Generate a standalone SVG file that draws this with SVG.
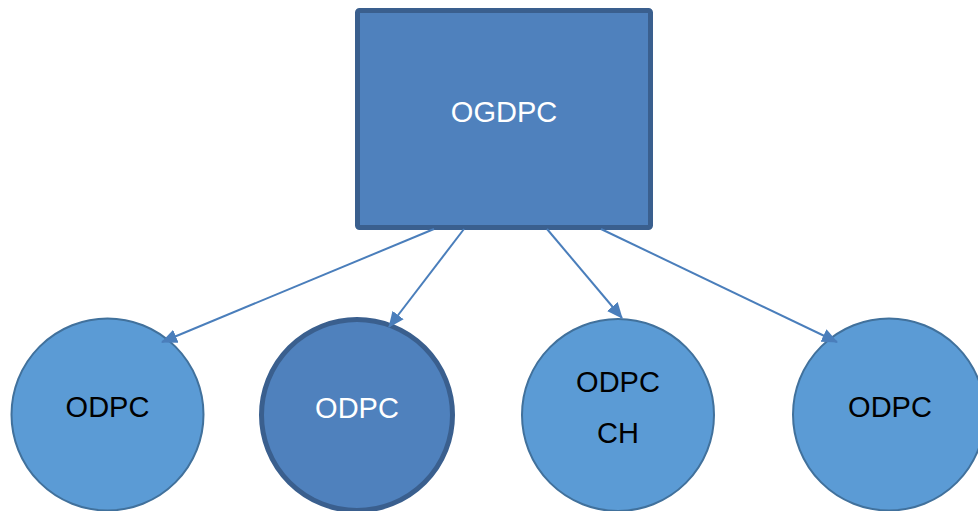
<svg xmlns="http://www.w3.org/2000/svg" width="978" height="511" viewBox="0 0 978 511">
<style>
.lbl{font-family:"Liberation Sans",Arial,sans-serif;font-size:29px;text-anchor:middle}
.w{fill:#ffffff}
.k{fill:#000000}
.c{fill:#5B9BD5;stroke:#41719C;stroke-width:2}
.dk{fill:#4F81BD;stroke:#3A5F8E;stroke-width:5}
.conn{stroke:#4A7EBB;stroke-width:2;fill:none}
</style>
<defs>
<marker id="ah" markerUnits="userSpaceOnUse" markerWidth="16" markerHeight="14" viewBox="0 0 16 14" refX="15" refY="7" orient="auto">
<path d="M0,0 L16,7 L0,14 Z" fill="#4A7EBB"/>
</marker>
</defs>
<g id="ogdpc">
<rect class="dk" x="357.5" y="10.5" width="293" height="217" rx="2"/>
<text class="lbl w" x="504" y="122">OGDPC</text>
</g>
<g id="odpc1">
<circle class="c" cx="107.5" cy="414.5" r="96"/>
<text class="lbl k" x="107.5" y="417">ODPC</text>
</g>
<g id="odpc2">
<circle class="dk" cx="357" cy="415" r="95.5"/>
<text class="lbl w" x="357" y="418">ODPC</text>
</g>
<g id="odpcch">
<circle class="c" cx="618" cy="415" r="96"/>
<text class="lbl k" x="618" y="392">ODPC</text>
<text class="lbl k" x="618" y="443">CH</text>
</g>
<g id="odpc4">
<circle class="c" cx="889" cy="414.5" r="96"/>
<text class="lbl k" x="890" y="417">ODPC</text>
</g>
<g id="connectors">
<line class="conn" x1="434" y1="229" x2="162" y2="342" marker-end="url(#ah)"/>
<line class="conn" x1="464" y1="229" x2="389" y2="327" marker-end="url(#ah)"/>
<line class="conn" x1="547" y1="229" x2="622" y2="318" marker-end="url(#ah)"/>
<line class="conn" x1="601" y1="229" x2="837" y2="342" marker-end="url(#ah)"/>
</g>
</svg>
